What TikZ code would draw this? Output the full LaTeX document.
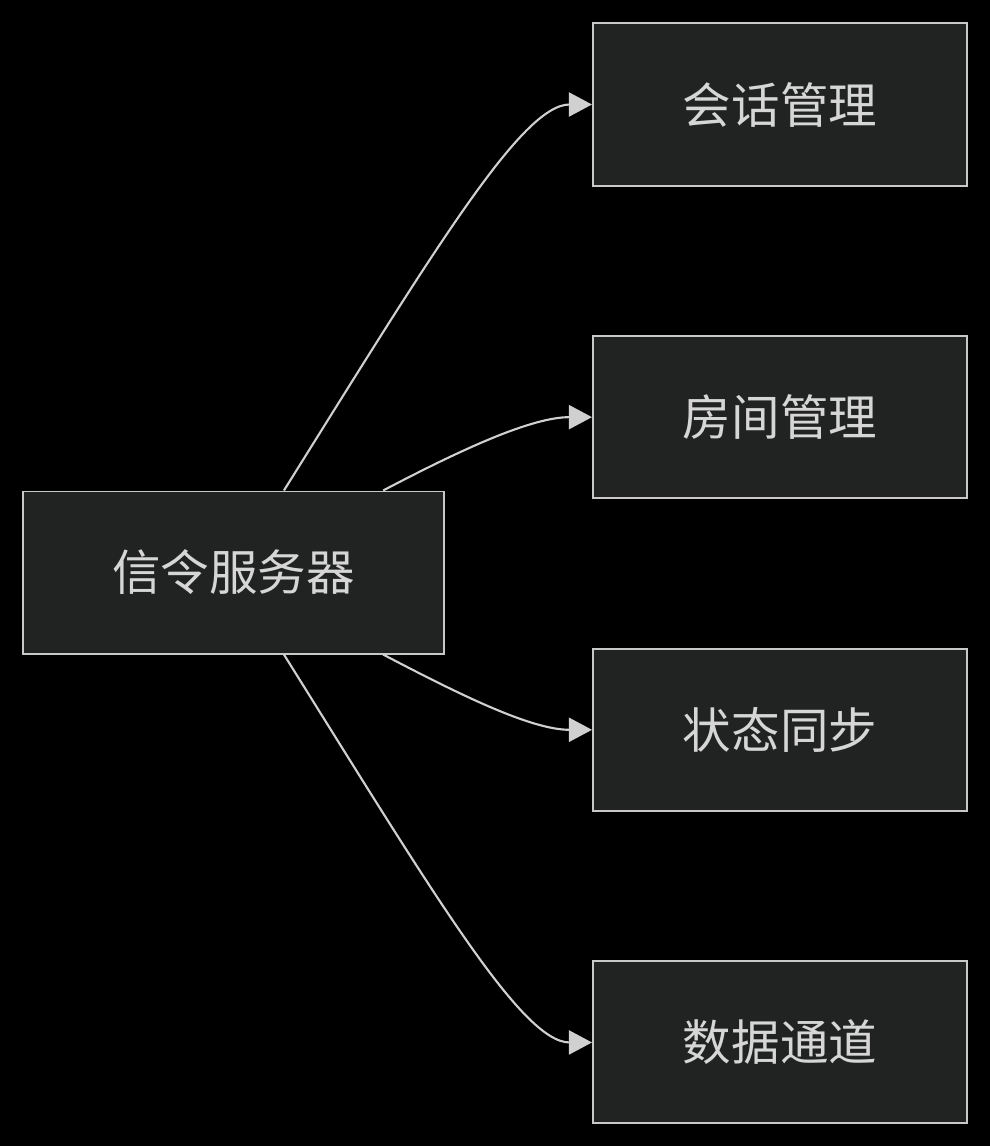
\documentclass[tikz,border=0pt]{standalone}
\usepackage{fontspec}
\newfontfamily\cjk{Noto Sans CJK SC}
\usepackage{xcolor}
\usetikzlibrary{positioning, arrows.meta}
\definecolor{boxfill}{HTML}{212322}
\definecolor{boxline}{HTML}{C8C8C8}
\definecolor{txt}{HTML}{D6D6D6}
\definecolor{edge}{HTML}{D0D0D0}

\begin{document}
\begin{tikzpicture}[
  x=0.025cm, y=-0.025cm,
  box/.style={rectangle, draw=boxline, fill=boxfill, line width=1.4pt, text=txt,
    minimum width=9.35cm, minimum height=4.05cm, font=\cjk\fontsize{34.5pt}{40pt}\selectfont},
  node distance=3.715cm,
  arr/.style={-{Triangle[length=0.575cm, width=0.6cm]}, draw=edge, line width=1.5pt}
]
\fill[black] (0,0) rectangle (990,1146);
\useasboundingbox (0,0) rectangle (990,1146);
\node[box, minimum width=10.525cm] (sig) at (233.5,572.5) {信令服务器};
\node[box] (sess) at (780,104.5) {会话管理};
\node[box, below=of sess] (room) {房间管理};
\node[box, below=of room] (sync) {状态同步};
\node[box, below=of sync] (chan) {数据通道};
\draw[arr] ([xshift=1.26cm]sig.north) .. controls +(150,-240) and +(-70,0) .. (sess.west);
\draw[arr] ([xshift=3.74cm]sig.north) .. controls +(80,-42) and +(-60,0) .. (room.west);
\draw[arr] ([xshift=3.74cm]sig.south) .. controls +(80,42) and +(-60,0) .. (sync.west);
\draw[arr] ([xshift=1.26cm]sig.south) .. controls +(150,240) and +(-70,0) .. (chan.west);
\end{tikzpicture}
\end{document}
